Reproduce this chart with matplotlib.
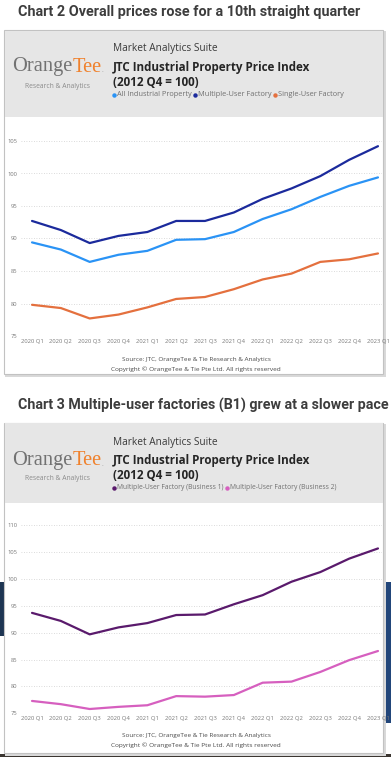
import matplotlib
matplotlib.use("Agg")
import matplotlib.pyplot as plt
from matplotlib.patches import Rectangle
from matplotlib.lines import Line2D

# ---------------- data ----------------
quarters = ['2020 Q1', '2020 Q2', '2020 Q3', '2020 Q4', '2021 Q1', '2021 Q2', '2021 Q3',
            '2021 Q4', '2022 Q1', '2022 Q2', '2022 Q3', '2022 Q4', '2023 Q1']
all_industrial = [89.4, 88.3, 86.4, 87.5, 88.1, 89.8, 89.9, 91.0, 93.0, 94.5, 96.4, 98.1, 99.4]
multiple_user = [92.7, 91.3, 89.3, 90.4, 91.0, 92.7, 92.7, 94.0, 96.1, 97.7, 99.6, 102.1, 104.2]
single_user = [79.8, 79.3, 77.7, 78.3, 79.4, 80.7, 81.0, 82.2, 83.7, 84.6, 86.4, 86.8, 87.7]
mu_business1 = [93.7, 92.2, 89.7, 91.0, 91.8, 93.3, 93.4, 95.3, 97.0, 99.5, 101.3, 103.8, 105.7]
mu_business2 = [77.3, 76.7, 75.8, 76.2, 76.5, 78.2, 78.1, 78.4, 80.7, 80.9, 82.7, 84.9, 86.6]
yticks1 = [75, 80, 85, 90, 95, 100, 105]
yticks2 = [75, 80, 85, 90, 95, 100, 105, 110]

labels1 = ['All Industrial Property', 'Multiple-User Factory', 'Single-User Factory']
labels2 = ['Multiple-User Factory (Business 1)', 'Multiple-User Factory (Business 2)']
colors1 = ['#2a93f5', '#1b2a9c', '#e4703e']
colors2 = ['#5a1a6c', '#d65fbf']

W, H = 391, 757
fig = plt.figure(figsize=(W / 100, H / 100), dpi=100)
fig.patch.set_facecolor('white')
renderer = fig.canvas.get_renderer()


def fx(x):
    return x / W


def fy(y):
    return 1 - y / H


def text(x, y, s, width=None, size=8, **kw):
    t = fig.text(fx(x), fy(y), s, fontsize=size, va='center', **kw)
    if width is not None:
        bb = t.get_window_extent(renderer)
        t.set_fontsize(size * width / bb.width)
    return t


def rect(x0, y0, x1, y1, **kw):
    r = Rectangle((fx(x0), fy(y1)), fx(x1) - fx(x0), fy(y0) - fy(y1),
                  transform=fig.transFigure, **kw)
    fig.add_artist(r)
    return r


HEAD = ['Open Sans', 'DejaVu Sans']
TITLE = ['Roboto', 'DejaVu Sans']
SERIF = ['Liberation Serif', 'DejaVu Serif']


def text_w(s, size, family, weight='normal'):
    t = fig.text(0, 0, s, fontsize=size, family=family, weight=weight)
    bb = t.get_window_extent(renderer)
    t.remove()
    return bb.width


def fitted_size(s, width, family, weight='normal'):
    return 10 * width / text_w(s, 10, family, weight)


# background photo edges visible behind the second panel
rect(0, 582, 3.5, 636, facecolor='#1d3552', edgecolor='none', zorder=0)
rect(385, 582, 391, 723, facecolor='#22467a', edgecolor='none', zorder=0)
rect(0, 754, 391, 757, facecolor='#3b3631', edgecolor='none', zorder=0)


def panel(top, header_bottom, bottom, title_y, title, title_w, legend_labels, legend_colors,
          legend_total):
    # chart heading above panel
    text(18, title_y, title, width=title_w, size=10, family=TITLE, weight='bold',
         color='#3d3d3d', ha='left')
    # shadow + panel
    rect(5, top + 1, 386, bottom + 3, facecolor='#d9d9d9', edgecolor='none', zorder=0.5)
    rect(4, top, 383, bottom, facecolor='white', edgecolor='#c2c2c2', lw=0.8, zorder=1)
    rect(4.5, top + 0.5, 382.5, header_bottom, facecolor='#e6e6e6', edgecolor='none', zorder=1)
    # logo
    ly = top + 37
    ls = fitted_size('OrangeTee', 89, SERIF)
    t1 = text(12, ly, 'Orange', size=ls, family=SERIF, color='#727272', ha='left', zorder=3)
    bb = t1.get_window_extent(renderer)
    t2 = fig.text(bb.x1 / W, fy(ly), 'Tee', fontsize=ls, family=SERIF,
                  color='#f0812c', va='center', ha='left', zorder=3)
    bb2 = t2.get_window_extent(renderer)
    fig.text(bb2.x1 / W, fy(ly + 4), '.', fontsize=5, family=SERIF,
             color='#909090', va='center', ha='left', zorder=3)
    text(57.5, top + 56, 'Research & Analytics', width=65, size=4, family=HEAD,
         color='#8a8a8a', ha='center', zorder=3)
    # header texts
    text(113, top + 19, 'Market Analytics Suite', width=105, size=8, family=HEAD,
         color='#3a3a3a', ha='left', zorder=3)
    text(113, top + 37, 'JTC Industrial Property Price Index', width=199, size=9,
         family=HEAD, weight='bold', color='#252525', ha='left', zorder=3)
    text(113, top + 52.5, '(2012 Q4 = 100)', width=86, size=9, family=HEAD, weight='bold',
         color='#252525', ha='left', zorder=3)
    # legend: dot + text sequentially, fitted to total width
    ly2 = top + 64.5
    dot_gap, item_gap = 3.0, 3.5
    fixed = len(legend_labels) * dot_gap + (len(legend_labels) - 1) * item_gap
    tw10 = sum(text_w(l, 10, HEAD) for l in legend_labels)
    lsz = 10 * (legend_total - fixed) / tw10
    lx = 113.5
    for lab, col in zip(legend_labels, legend_colors):
        fig.add_artist(Line2D([fx(lx)], [fy(ly2)], marker='o', ms=3.2, color=col, mew=0,
                              transform=fig.transFigure, zorder=3))
        t = text(lx + dot_gap, ly2, lab, size=lsz, family=HEAD, color='#707070',
                 ha='left', zorder=3)
        lx = t.get_window_extent(renderer).x1 + item_gap


def chart(y75, px_per_unit, ytop, yticks, series, colors, src_y):
    left_px, right_px = 20.5, 382.3
    bottom_px = y75
    top_px = y75 - (ytop - 75) * px_per_unit
    ax = fig.add_axes([fx(left_px), fy(bottom_px), fx(right_px) - fx(left_px),
                       (bottom_px - top_px) / H])
    ax.set_facecolor('none')
    ax.set_zorder(2)
    x = list(range(len(quarters)))
    for vals, col in zip(series, colors):
        ax.plot(x, vals, color=col, lw=1.6, solid_capstyle='round', clip_on=False)
    ax.set_xlim(-0.4, 12.15)
    ax.set_ylim(75, ytop)
    ax.set_yticks(yticks)
    ax.set_yticklabels([str(v) for v in yticks])
    ax.set_xticks(x)
    ax.set_xticklabels(quarters)
    ax.tick_params(axis='both', length=0, labelsize=4.2, colors='#7a7a7a')
    ax.tick_params(axis='y', pad=2.5)
    ax.tick_params(axis='x', pad=2.2)
    for lab in ax.get_xticklabels() + ax.get_yticklabels():
        lab.set_family(HEAD)
    ax.grid(axis='y', ls=(0, (1, 2)), color='#cfcfcf', lw=0.6)
    for s in ax.spines.values():
        s.set_visible(False)
    text(196, src_y, 'Source: JTC, OrangeTee & Tie Research & Analytics', width=152, size=5,
         family=HEAD, color='#4a4a4a', ha='center', zorder=3)
    text(196, src_y + 9.5, 'Copyright \u00a9 OrangeTee & Tie Pte Ltd. All rights reserved',
         width=171, size=5, family=HEAD, color='#4a4a4a', ha='center', zorder=3)


# ---------- Chart 2 ----------
panel(30, 117, 374, 12, 'Chart 2 Overall prices rose for a 10th straight quarter', 344,
      labels1, colors1, 232)
chart(336, 6.5, 107, yticks1, [all_industrial, multiple_user, single_user], colors1, 359.5)

# ---------- Chart 3 ----------
panel(423, 503, 753, 405, 'Chart 3 Multiple-user factories (B1) grew at a slower pace', 373,
      labels2, colors2, 224)
chart(713.3, 5.37, 111.5, yticks2, [mu_business1, mu_business2], colors2, 735.5)

fig.savefig('out.png', dpi=100, facecolor='white')
